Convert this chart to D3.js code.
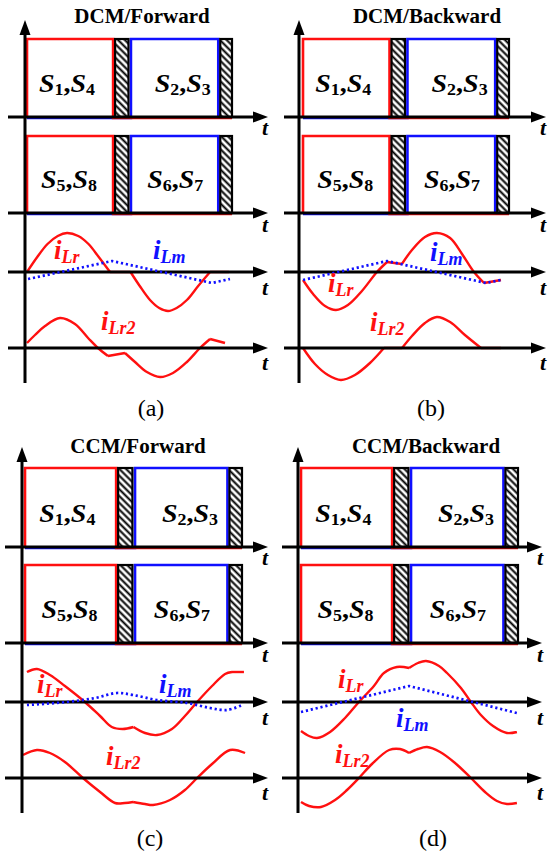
<!DOCTYPE html>
<html>
<head>
<meta charset="utf-8">
<script src="https://cdn.jsdelivr.net/npm/d3@7"></script>
<style>
html, body { margin: 0; padding: 0; background: #fff; }
svg { display: block; font-family: "Liberation Serif", "Times New Roman", serif; }
</style>
</head>
<body>
<div class="chart"></div>
<script>
var titles = ["DCM/Forward", "DCM/Backward", "CCM/Forward", "CCM/Backward"];
var captions = ["(a)", "(b)", "(c)", "(d)"];
// switching instants, % of period: on, S1S4 off, dead time end, S2S3 on, S2S3 off, period end
var gateTimes = [0, 42, 49.5, 50.7, 93.3, 100];
var switchNames = [["1", "4"], ["2", "3"], ["5", "8"], ["6", "7"]];
var switchLabelT = [19.5, 76, 20.5, 72.3];

// currents as [t %, value], split into pieces where the wave has a corner
var dcmFwdLr = [
    [[0, 0], [5, 1.5], [10, 2.8], [15, 3.6], [19.5, 3.9], [25, 3.6], [30, 2.8], [35, 1.5], [40.5, 0]],
    [[40.5, 0], [50.5, 0]],
    [[50.5, 0], [55, -1.4], [60, -2.8], [64.5, -3.6], [68.8, -3.9], [73, -3.6], [78, -2.8], [83.5, -1.4], [89.3, 0]],
    [[89.3, 0], [98.5, 0]]
];
var dcmFwdLm = [[[0.5, -0.7], [41.5, 1.1], [90.2, -1.1], [99, -0.7]]];
var dcmFwdLr2 = [
    [[0, 0.5], [3.9, 1.3], [8.8, 2.2], [16.1, 3.0], [23.4, 2.4], [29.8, 1.0], [34.6, 0], [39.5, -0.8]],
    [[39.5, -0.8], [47.8, -0.5]],
    [[47.8, -0.5], [52.7, -1.4], [58.5, -2.4], [64.9, -2.9], [71.2, -2.5], [78, -1.4], [84.4, 0], [89.3, 0.9]],
    [[89.3, 0.9], [96.6, 0.5]]
];

var dcmBwdLr = [
    [[0, -0.8], [4.9, -2.2], [10.7, -3.4], [16, -3.8], [21.8, -3.3], [28.6, -1.9], [35.9, 0], [40.8, 1.0]],
    [[40.8, 1.0], [48, 0.8]],
    [[48, 0.8], [52.9, 2.2], [59.2, 3.5], [65, 3.9], [71.4, 3.4], [77.2, 1.8], [83, 0], [87.9, -1.1]],
    [[87.9, -1.1], [96.1, -0.8]]
];
var dcmBwdLm = [[[0, -0.8], [40.8, 1.1], [88.8, -1.1], [96.1, -0.8]]];
var dcmBwdLr2 = [
    [[0, 0], [5.8, -1.6], [12.1, -2.7], [18.4, -3.2], [25.2, -2.7], [32.5, -1.5], [39.3, 0]],
    [[39.3, 0], [48.1, 0]],
    [[48.1, 0], [52.9, 1.2], [59.2, 2.5], [65, 3.1], [71.4, 2.6], [78.6, 1.3], [86.4, 0]],
    [[86.4, 0], [96.1, 0]]
];

var ccmFwdLr = [
    [[0.9, 3.0], [5.5, 3.3], [11.5, 2.7], [18.4, 1.6], [27.6, 0], [34.6, -1.4], [40, -2.5], [45, -2.7], [50, -2.5]],
    [[50, -2.5], [55.3, -3.1], [60.8, -3.3], [67.7, -2.7], [73.7, -1.4], [79.3, 0], [86.2, 1.6], [92.2, 2.8], [95.4, 3.0]],
    [[95.4, 3.0], [100.9, 3.0]]
];
var ccmFwdLm = [[[0.9, -0.3], [19.4, 0], [32.3, 0.4], [42.4, 0.9], [49.8, 0.7], [60.8, 0.2], [74.7, -0.1], [85.3, -0.6], [93.1, -0.8], [100, -0.3]]];
var ccmFwdLr2 = [
    [[-0.9, 2.3], [5.5, 2.8], [11.5, 2.5], [18.4, 1.6], [26.7, 0], [34.6, -1.4], [41.5, -2.5], [46, -2.5], [49.8, -2.4]],
    [[49.8, -2.4], [55.3, -2.6], [59, -2.7], [66.8, -2.2], [73.7, -1.2], [79.3, 0], [86.2, 1.4], [94.5, 2.8], [101.4, 2.5]]
];

var ccmBwdLr = [
    [[0, -2.9], [3.7, -3.4], [7.4, -3.6], [13.4, -3.0], [20.3, -1.6], [26.7, 0], [33.6, 1.6], [38.2, 2.9], [44.2, 3.5], [49.8, 3.4]],
    [[49.8, 3.4], [53.9, 3.9], [57.6, 4.1], [63.6, 3.6], [67.3, 2.9], [73.7, 1.4], [78.3, 0], [82.9, -1.3], [88.5, -2.4], [94.9, -3.1], [99.5, -3.0]]
];
var ccmBwdLm = [[[0, -1.0], [49.8, 1.6], [99.5, -1.1]]];
var ccmBwdLr2 = [
    [[0, -2.4], [3.7, -2.8], [9.2, -2.9], [15.7, -2.2], [21.2, -1.2], [26.7, 0], [32.7, 1.4], [40.6, 2.8], [45.6, 2.9], [49.8, 2.5]],
    [[49.8, 2.5], [53.9, 2.9], [58.1, 3.1], [64.1, 2.6], [71, 1.5], [78.3, 0], [84.8, -1.4], [90.3, -2.3], [94.9, -2.6], [99.5, -2.5]]
];

var waves = [
    {lr: dcmFwdLr, lm: dcmFwdLm, lr2: dcmFwdLr2, lmSmooth: false},
    {lr: dcmBwdLr, lm: dcmBwdLm, lr2: dcmBwdLr2, lmSmooth: false},
    {lr: ccmFwdLr, lm: ccmFwdLm, lr2: ccmFwdLr2, lmSmooth: true},
    {lr: ccmBwdLr, lm: ccmBwdLm, lr2: ccmBwdLr2, lmSmooth: false}
];

// where each panel sits on the page
var layouts = [
    {vx: 25, t0: 27, t1: 232, vTop: 20, vBot: 383, hStart: 8, hEnd: 268,
     gateTop: [39, 136], axes: [117, 213, 272, 348], titleX: 142, titleY: 23, capX: 151, capY: 416, tX: 262,
     lrPos: [54, 259], lmPos: [153, 259], lr2Pos: [101, 330]},
    {vx: 299, t0: 303, t1: 509, vTop: 20, vBot: 383, hStart: 284, hEnd: 546,
     gateTop: [39, 136], axes: [117, 213, 272, 348], titleX: 427, titleY: 23, capX: 431, capY: 416, tX: 540,
     lrPos: [328, 292], lmPos: [430, 261], lr2Pos: [370, 331]},
    {vx: 22, t0: 25, t1: 242, vTop: 447, vBot: 813, hStart: 5, hEnd: 268,
     gateTop: [468, 565], axes: [547, 643, 702, 778], titleX: 138, titleY: 453, capX: 150, capY: 846, tX: 262,
     lrPos: [37, 693], lmPos: [159, 693], lr2Pos: [106, 765]},
    {vx: 298, t0: 301, t1: 518, vTop: 447, vBot: 813, hStart: 282, hEnd: 542,
     gateTop: [468, 565], axes: [547, 643, 702, 778], titleX: 426, titleY: 453, capX: 433, capY: 846, tX: 537,
     lrPos: [338, 688], lmPos: [396, 727], lr2Pos: [335, 763]}
];
var tLabelDy = [18, 19, 23, 22];

var RED = "#ff1010", BLUE = "#1010ff";

var svg = d3.select(".chart").append("svg")
    .attr("width", 548)
    .attr("height", 855);

var pat = svg.append("defs").append("pattern")
    .attr("id", "hatch")
    .attr("patternUnits", "userSpaceOnUse")
    .attr("width", 4.8).attr("height", 4.8)
    .attr("patternTransform", "rotate(-45)");
pat.append("rect").attr("width", 4.8).attr("height", 4.8).attr("fill", "#fff");
pat.append("line")
    .attr("x1", 2.4).attr("y1", 0).attr("x2", 2.4).attr("y2", 4.8)
    .attr("stroke", "#000").attr("stroke-width", 2);

var stepLine = d3.line().curve(d3.curveLinear);

function currentLabel(g, pos, sub, color) {
    var t = g.append("text")
        .attr("x", pos[0]).attr("y", pos[1])
        .attr("fill", color)
        .style("font-weight", "bold")
        .style("font-style", "italic");
    t.append("tspan").style("font-size", "27px").text("i");
    t.append("tspan").style("font-size", "18px").attr("dy", 4).text(sub);
}

function arrowH(g, x, y) {
    g.append("path").attr("d", "M" + x + "," + y + "L" + (x - 15) + "," + (y - 5.5) + "L" + (x - 15) + "," + (y + 5.5) + "Z").attr("fill", "#000");
}
function arrowV(g, x, y) {
    g.append("path").attr("d", "M" + x + "," + y + "L" + (x - 5.5) + "," + (y + 15) + "L" + (x + 5.5) + "," + (y + 15) + "Z").attr("fill", "#000");
}

layouts.forEach(function(L, p) {
    var g = svg.append("g").attr("class", "panel");
    var x = d3.scaleLinear().domain([0, 100]).range([L.t0, L.t1]);

    // gate signals
    [0, 1].forEach(function(r) {
        var base = L.axes[r], top = L.gateTop[r];
        var y = d3.scaleLinear().domain([0, 1]).range([base + 1, top]);
        var redPts = [[gateTimes[0], 0], [gateTimes[0], 1], [gateTimes[1], 1], [gateTimes[1], 0], [gateTimes[5], 0]];
        var bluePts = [[gateTimes[0], 0], [gateTimes[3], 0], [gateTimes[3], 1], [gateTimes[4], 1], [gateTimes[4], 0]];
        g.append("path")
            .attr("d", stepLine(bluePts.map(function(d) { return [x(d[0]), y(d[1])]; })))
            .attr("fill", "none").attr("stroke", BLUE).attr("stroke-width", 2.6);
        g.append("path")
            .attr("d", stepLine(redPts.map(function(d) { return [x(d[0]), y(d[1])]; })))
            .attr("fill", "none").attr("stroke", RED).attr("stroke-width", 2.6);
        // dead time
        [[gateTimes[1], gateTimes[2]], [gateTimes[4], gateTimes[5]]].forEach(function(dt) {
            g.append("rect")
                .attr("x", x(dt[0]) + 2).attr("y", top)
                .attr("width", x(dt[1]) - x(dt[0]) - 2).attr("height", base - top)
                .attr("fill", "url(#hatch)")
                .attr("stroke", "#000").attr("stroke-width", 2.2);
        });
        // switch labels
        [0, 1].forEach(function(k) {
            var n = switchNames[r * 2 + k];
            var lbl = g.append("g")
                .attr("transform", "translate(" + x(switchLabelT[r * 2 + k]) + "," + (base - 25) + ") scale(1.12,1)")
                .append("text")
                .attr("text-anchor", "middle")
                .style("font-weight", "bold");
            lbl.append("tspan").style("font-size", "25px").style("font-style", "italic").text("S");
            lbl.append("tspan").style("font-size", "16px").attr("dy", 3).text(n[0]);
            lbl.append("tspan").style("font-size", "25px").attr("dy", -3).text(",");
            lbl.append("tspan").style("font-size", "25px").style("font-style", "italic").text("S");
            lbl.append("tspan").style("font-size", "16px").attr("dy", 3).text(n[1]);
        });
    });

    // currents
    var w = waves[p];
    function drawWave(segs, axisY, color, smooth, dotted) {
        var y = d3.scaleLinear().domain([-5, 5]).range([axisY + 50, axisY - 50]);
        var line = d3.line()
            .x(function(d) { return x(d[0]); })
            .y(function(d) { return y(d[1]); })
            .curve(smooth ? d3.curveCatmullRom.alpha(0.5) : d3.curveLinear);
        segs.forEach(function(s) {
            var path = g.append("path")
                .attr("d", line(s))
                .attr("fill", "none")
                .attr("stroke", color)
                .attr("stroke-width", dotted ? 2.7 : 2.4)
                .attr("stroke-linejoin", "round");
            if (dotted) path.attr("stroke-dasharray", "2.2,2.8");
        });
    }
    drawWave(w.lr, L.axes[2], RED, true, false);
    drawWave(w.lr2, L.axes[3], RED, true, false);

    // axes
    L.axes.forEach(function(a, r) {
        g.append("line")
            .attr("x1", L.hStart).attr("y1", a)
            .attr("x2", L.hEnd - 8).attr("y2", a)
            .attr("stroke", "#000").attr("stroke-width", 3);
        arrowH(g, L.hEnd, a);
        g.append("text")
            .attr("x", L.tX).attr("y", a + tLabelDy[r])
            .style("font-size", "22px").style("font-weight", "bold").style("font-style", "italic")
            .text("t");
    });
    g.append("line")
        .attr("x1", L.vx).attr("y1", L.vBot)
        .attr("x2", L.vx).attr("y2", L.vTop + 8)
        .attr("stroke", "#000").attr("stroke-width", 3);
    arrowV(g, L.vx, L.vTop);

    drawWave(w.lm, L.axes[2], BLUE, w.lmSmooth, true);

    currentLabel(g, L.lrPos, "Lr", RED);
    currentLabel(g, L.lmPos, "Lm", BLUE);
    currentLabel(g, L.lr2Pos, "Lr2", RED);

    g.append("text")
        .attr("x", L.titleX).attr("y", L.titleY)
        .attr("text-anchor", "middle")
        .style("font-size", "21px").style("font-weight", "bold")
        .text(titles[p]);
    g.append("text")
        .attr("x", L.capX).attr("y", L.capY)
        .attr("text-anchor", "middle")
        .style("font-size", "24px")
        .text(captions[p]);
});
</script>
</body>
</html>
